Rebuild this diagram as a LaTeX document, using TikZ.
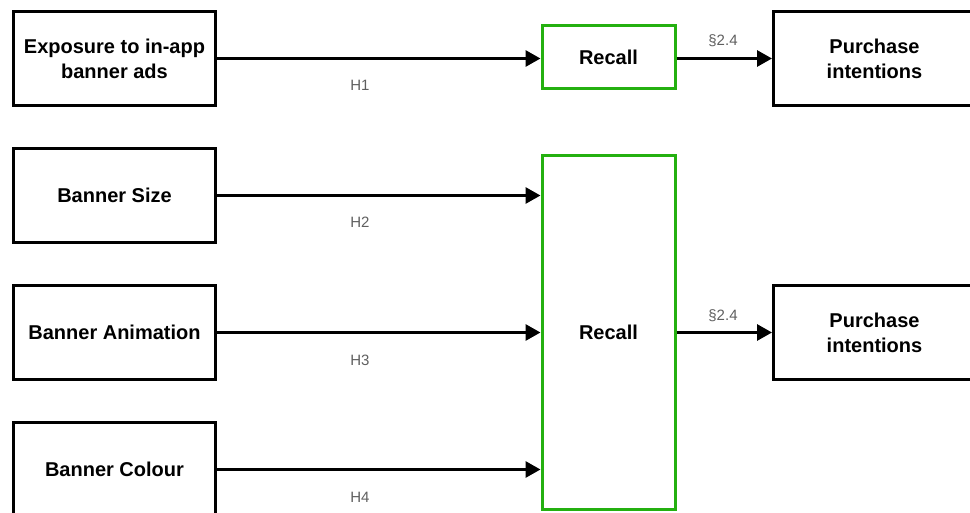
\documentclass[tikz,border=0pt]{standalone}
\usepackage{fontspec}
\setmainfont{Liberation Sans}
\usetikzlibrary{arrows.meta}
\definecolor{boxgreen}{RGB}{36,176,16}
\definecolor{lblgray}{RGB}{95,95,95}
\tikzset{
  blackbox/.style={draw=black, line width=3pt, minimum width=202pt, minimum height=94pt, inner sep=0pt, align=center, font=\bfseries\fontsize{20}{25}\selectfont},
  recallbox/.style={draw=boxgreen, line width=3pt, minimum width=133pt, inner sep=0pt, align=center, font=\bfseries\fontsize{20}{25}\selectfont},
  link/.style={line width=3pt, -{Triangle[length=15pt,width=16pt]}},
  lbl/.style={text=lblgray, font=\fontsize{15}{17}\selectfont, inner sep=0pt}
}
\begin{document}
\begin{tikzpicture}[x=1pt,y=-1pt]
\useasboundingbox (0,0) rectangle (970,513);
\clip (0,0) rectangle (970,513);
\node[blackbox] (e) at (114.5,58.5) {Exposure to in-app\\banner ads};
\node[blackbox] (s) at (114.5,195.5) {Banner Size};
\node[blackbox] (a) at (114.5,332.5) {Banner Animation};
\node[blackbox] (c) at (114.5,469.5) {Banner Colour};
\node[recallbox, minimum height=63pt] (r1) at (608.5,57.5) {Recall};
\node[recallbox, minimum height=353pt] (r2) at (608.5,332.5) {Recall};
\node[blackbox] (p1) at (874.5,58.5) {Purchase\\intentions};
\node[blackbox] (p2) at (874.5,332.5) {Purchase\\intentions};
\draw[link] (e.east) -- (e.east -| r1.west);
\draw[link] (s.east) -- (s.east -| r2.west);
\draw[link] (a.east) -- (a.east -| r2.west);
\draw[link] (c.east) -- (c.east -| r2.west);
\draw[link] (e.east -| r1.east) -- (e.east -| p1.west);
\draw[link] (a.east -| r2.east) -- (a.east -| p2.west);
\node[lbl] (h1) at (360,85) {H1};
\node[lbl] (h2) at (360,222) {H2};
\node[lbl] (h3) at (360,360) {H3};
\node[lbl] (h4) at (360,497) {H4};
\node[lbl] (s1) at (723,41) {§2.4};
\node[lbl] (s2) at (723,316) {§2.4};
\end{tikzpicture}
\end{document}
